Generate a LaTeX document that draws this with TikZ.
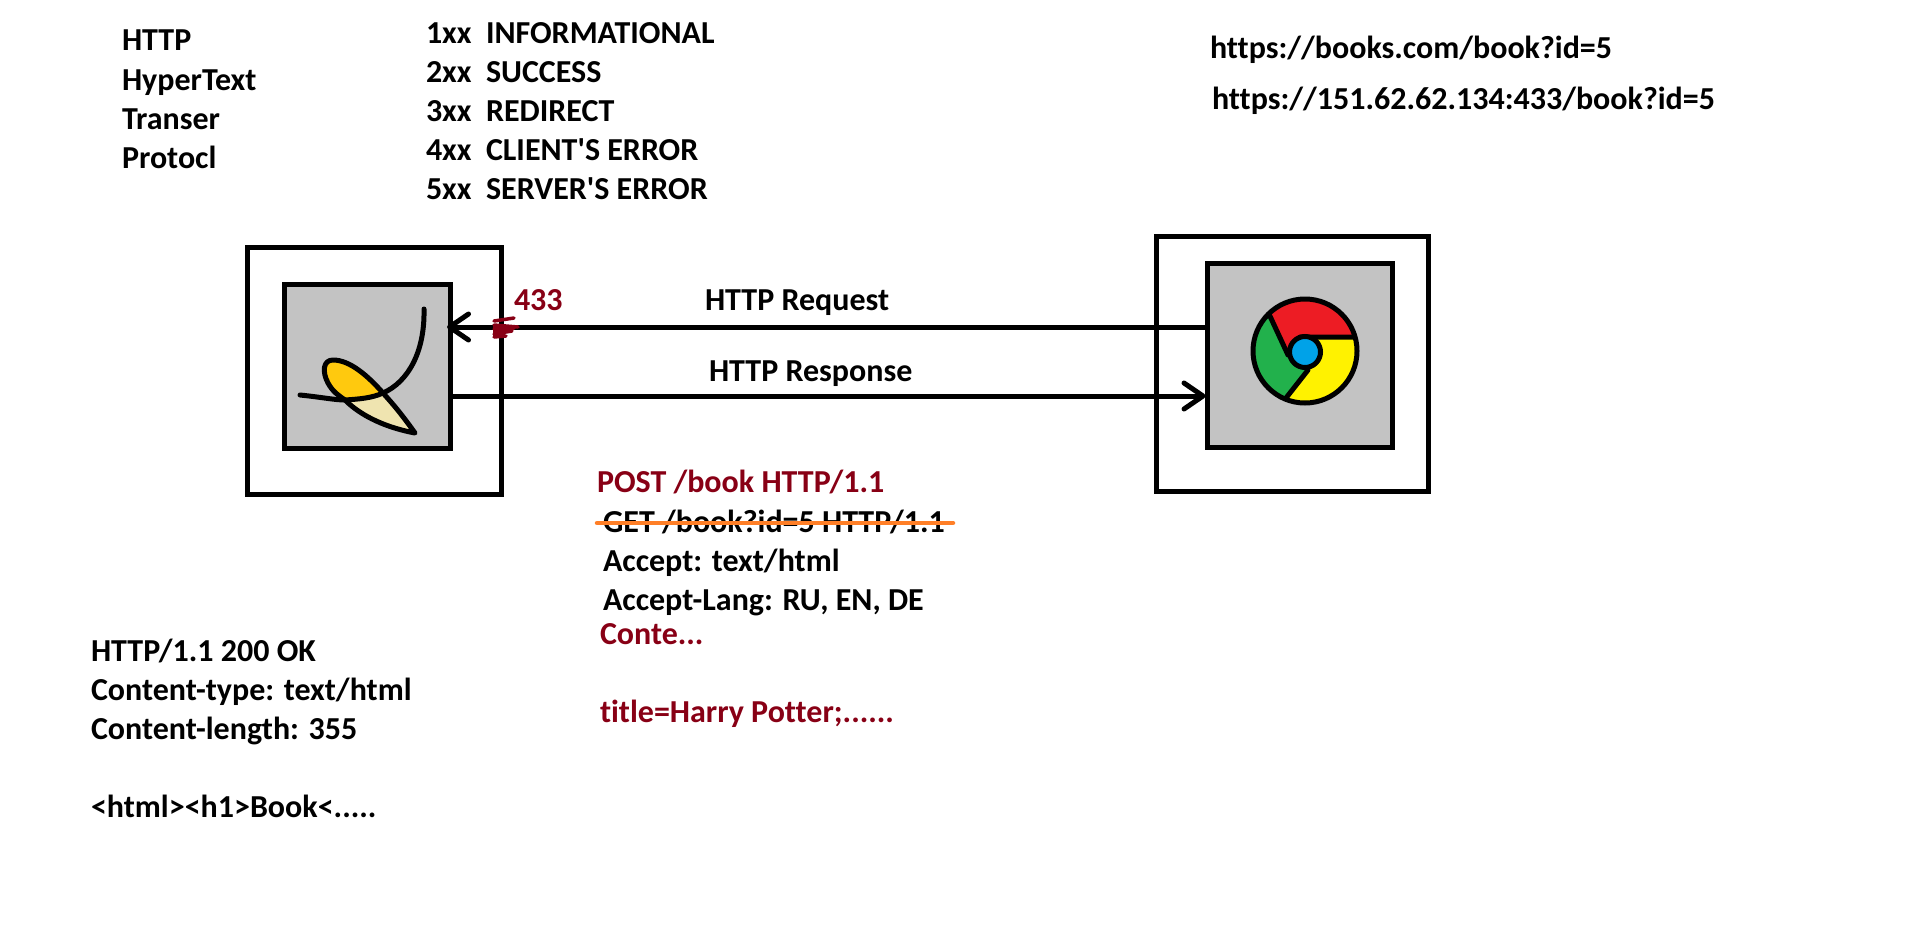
\documentclass[tikz,border=0pt]{standalone}
\usepackage{fontspec}
\setmainfont{Carlito}[Ligatures={TeXOff,NoCommon}]
\usetikzlibrary{arrows.meta}
\definecolor{boxgrey}{HTML}{C3C3C3}
\definecolor{darkred}{HTML}{880015}
\definecolor{strike}{HTML}{FF7F27}
\definecolor{leafgold}{HTML}{FFC90E}
\definecolor{leafcream}{HTML}{EFE4B0}
\definecolor{chromered}{HTML}{ED1C24}
\definecolor{chromeyellow}{HTML}{FFF200}
\definecolor{chromegreen}{HTML}{22B14C}
\definecolor{chromeblue}{HTML}{00A2E8}
\tikzset{
  txt/.style={anchor=base west,inner sep=0pt,outer sep=0pt,font=\fontsize{32}{38}\selectfont\bfseries,text=black},
  redtxt/.style={txt,text=darkred},
  outerbox/.style={draw=black,line width=5pt,fill=white,inner sep=0pt},
  innerbox/.style={draw=black,line width=5pt,fill=boxgrey,inner sep=0pt},
  conn/.style={draw=black,line width=5pt,-{Straight Barb[length=19pt,width=26pt,line width=5pt,round]}},
  ink/.style={draw=black,line width=5pt,line cap=round,line join=round},
}
\begin{document}
\begin{tikzpicture}[x=1pt,y=-1pt]
\useasboundingbox (0,0) rectangle (1914,935);
% boxes
\node[outerbox,minimum width=254pt,minimum height=247pt] (serverouter) at (374,370.5) {};
\node[innerbox,minimum width=166pt,minimum height=164pt] (serverinner) at (367.5,366) {};
\node[outerbox,minimum width=272pt,minimum height=255pt] (clientouter) at (1292,363.5) {};
\node[innerbox,minimum width=185pt,minimum height=184pt] (clientinner) at (1299.5,355) {};
% connectors
\coordinate (reqstart) at (clientinner.west |- 0,327);
\coordinate (reqend) at ([xshift=-6pt]serverinner.east |- 0,327);
\coordinate (resstart) at (serverinner.east |- 0,396);
\coordinate (resend) at ([xshift=1pt]clientinner.west |- 0,396);
\draw[conn] (reqstart) -- (reqend);
\draw[conn] (resstart) -- (resend);
% port scribble
\draw[darkred,line width=3.5pt,line cap=round] (494,321) -- (514,318) (494,325) -- (518,327) (494,329) -- (514,328) (494,334) -- (512,331) (494,337) -- (506,336);
\fill[darkred] (493,326) -- (505,325) -- (505,337) -- (493,338) -- cycle;
% leaf
\fill[leafcream] (415,433) .. controls (400,412) and (392,403) .. (383,393) .. controls (370,399) and (358,399) .. (345,400) .. controls (362,417) and (388,428) .. (415,433) -- cycle;
\fill[leafgold] (383,393) .. controls (368,376) and (350,360) .. (333,360) .. controls (323,360) and (322,372) .. (328,383) .. controls (333,390) and (338,395) .. (345,400) .. controls (358,399) and (370,399) .. (383,393) -- cycle;
\draw[ink] (415,433) .. controls (400,412) and (392,403) .. (383,393) .. controls (368,376) and (350,360) .. (333,360) .. controls (323,360) and (322,372) .. (328,383) .. controls (333,392) and (338,395) .. (345,400) .. controls (362,417) and (388,428) .. (415,433) -- cycle;
\draw[ink] (300,395) .. controls (320,397) and (335,400) .. (345,400) .. controls (360,399) and (372,398) .. (383,393) .. controls (408,382) and (425,352) .. (424,309);
% chrome
\begin{scope}
\clip (1305,351) circle[radius=52pt];
\fill[chromegreen] (1240,285) rectangle (1370,420);
\fill[chromered] (1269,314) -- (1269,280) -- (1385,280) -- (1353,337) -- (1300,337) -- (1288,355) -- cycle;
\fill[chromeyellow] (1353,337) -- (1400,337) -- (1400,420) -- (1286,420) -- (1286,398) -- (1308,370) -- (1322,352) -- (1300,337) -- cycle;
\end{scope}
\draw[draw=black,line width=5pt] (1305,351) circle[radius=52pt];
\draw[draw=black,line width=5pt,line cap=round] (1269,314) -- (1288,355) (1300,337) -- (1353,337) (1308,370) -- (1286,398);
\node[circle,fill=chromeblue,draw=black,line width=5pt,minimum size=31pt,inner sep=0pt] (hub) at (1305,352) {};
% top text
\node[txt] (t1) at (122,50) {HTTP};
\node[txt] (t2) at (122,90) {HyperText};
\node[txt] (t3) at (122,129) {Transer};
\node[txt] (t4) at (122,168) {Protocl};
\node[txt] (s1) at (426,43) {1xx};
\node[txt] (s2) at (426,82) {2xx};
\node[txt] (s3) at (426,121) {3xx};
\node[txt] (s4) at (426,160) {4xx};
\node[txt] (s5) at (426,199) {5xx};
\node[txt] (m1) at (486,43) {INFORMATIONAL};
\node[txt] (m2) at (486,82) {SUCCESS};
\node[txt] (m3) at (486,121) {REDIRECT};
\node[txt] (m4) at (486,160) {CLIENT'S ERROR};
\node[txt] (m5) at (486,199) {SERVER'S ERROR};
\node[txt] (u1) at (1210,58) {https://books.com/book?id=5};
\node[txt] (u2) at (1212,109) {https://151.62.62.134:433/book?id=5};
% connector labels
\node[redtxt] (port) at (514,310) {433};
\node[txt] (req) at (705,310) {HTTP Request};
\node[txt] (res) at (709,381) {HTTP Response};
% request text
\node[redtxt] (post) at (597,492) {POST /book HTTP/1.1};
\node[txt] (get) at (603,532) {GET /book?id=5 HTTP/1.1};
\node[txt] (acc) at (603,571) {Accept: text/html};
\node[txt] (lang) at (603,610) {Accept-Lang: RU, EN, DE};
\node[redtxt] (cont) at (600,644) {Conte...};
\node[redtxt] (body) at (600,722) {title=Harry Potter;......};
\draw[strike,line width=4.5pt,line cap=round] (597,523) -- (953,523);
% response text
\node[txt] (r1) at (91,661) {HTTP/1.1 200 OK};
\node[txt] (r2) at (91,700) {Content-type: text/html};
\node[txt] (r3) at (91,739) {Content-length: 355};
\node[txt] (r4) at (91,817) {<html><h1>Book<.....};
\end{tikzpicture}
\end{document}
